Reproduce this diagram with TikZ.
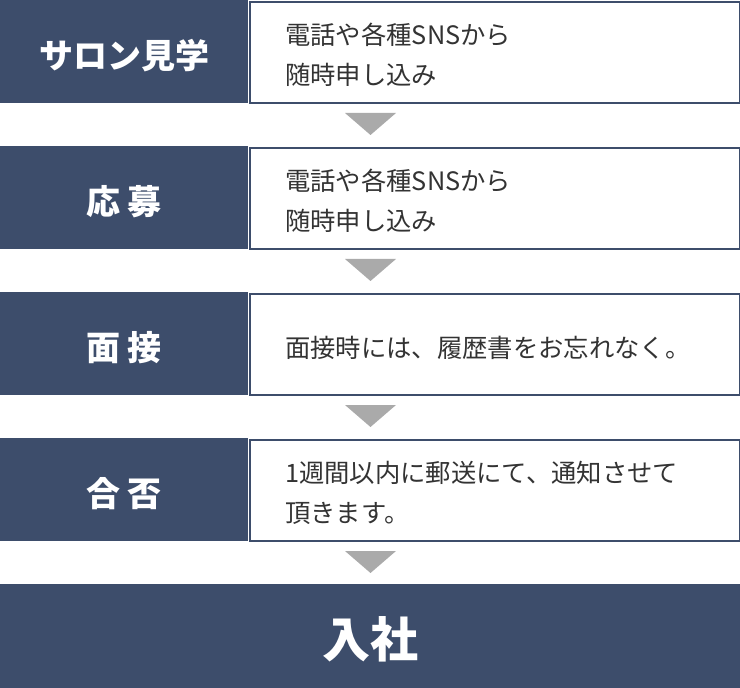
\documentclass[tikz,border=0pt]{standalone}
\usepackage{fontspec}
\setmainfont{Noto Sans CJK JP}
\usetikzlibrary{positioning}
\definecolor{navy}{HTML}{3D4D6B}
\definecolor{txt}{HTML}{333333}
\definecolor{arr}{HTML}{AAAAAA}
\begin{document}
\begin{tikzpicture}[x=0.75pt,y=-0.75pt,
  labelbox/.style={fill=navy,draw=none,minimum width=186pt,minimum height=77.25pt,inner sep=0pt,anchor=north west},
  labeltext/.style={text=white,font=\bfseries\fontsize{25.5}{30}\selectfont,inner sep=0pt},
  contentbox/.style={fill=white,draw=navy,line width=1.5pt,minimum width=367.5pt,minimum height=75.75pt,inner sep=0pt,anchor=north west},
  bodytext/.style={text=txt,font=\fontsize{19}{30}\selectfont,align=left,anchor=west,inner sep=0pt},
  arrowtri/.style={fill=arr,draw=none}]
\useasboundingbox (0,0) rectangle (740,688);
\foreach \i/\y in {1/0,2/146,3/292,4/438}{
  \node[labelbox] (l\i) at (0,\y) {};
  \node[contentbox] (c\i) at (248.5,\y+1) {};
}
\node[labeltext] (t1) at ([yshift=-3pt]l1.center) {サロン見学};
\node[labeltext] (t2) at ([yshift=-3pt]l2.center) {応\hspace{0.2em}募};
\node[labeltext] (t3) at ([yshift=-3pt]l3.center) {面\hspace{0.2em}接};
\node[labeltext] (t4) at ([yshift=-3pt]l4.center) {合\hspace{0.2em}否};
\node[bodytext] (b1) at (285,55) {電話や各種SNSから\\随時申し込み};
\node[bodytext] (b2) at (285,201) {電話や各種SNSから\\随時申し込み};
\node[bodytext] (b3) at (285,348) {面接時には、履歴書をお忘れなく。};
\node[bodytext] (b4) at (285,493) {1週間以内に郵送にて、通知させて\\頂きます。};
\foreach \y in {113,259,405,551}{
  \fill[arrowtri] (345,\y) -- (396,\y) -- (370.5,\y+22) -- cycle;
}
\node[fill=navy,minimum width=555pt,minimum height=78pt,inner sep=0pt,anchor=north west] (fin) at (0,584) {};
\node[text=white,font=\bfseries\fontsize{36}{40}\selectfont,inner sep=0pt] (ft) at ([yshift=-2pt]fin.center) {入社};
\end{tikzpicture}
\end{document}
